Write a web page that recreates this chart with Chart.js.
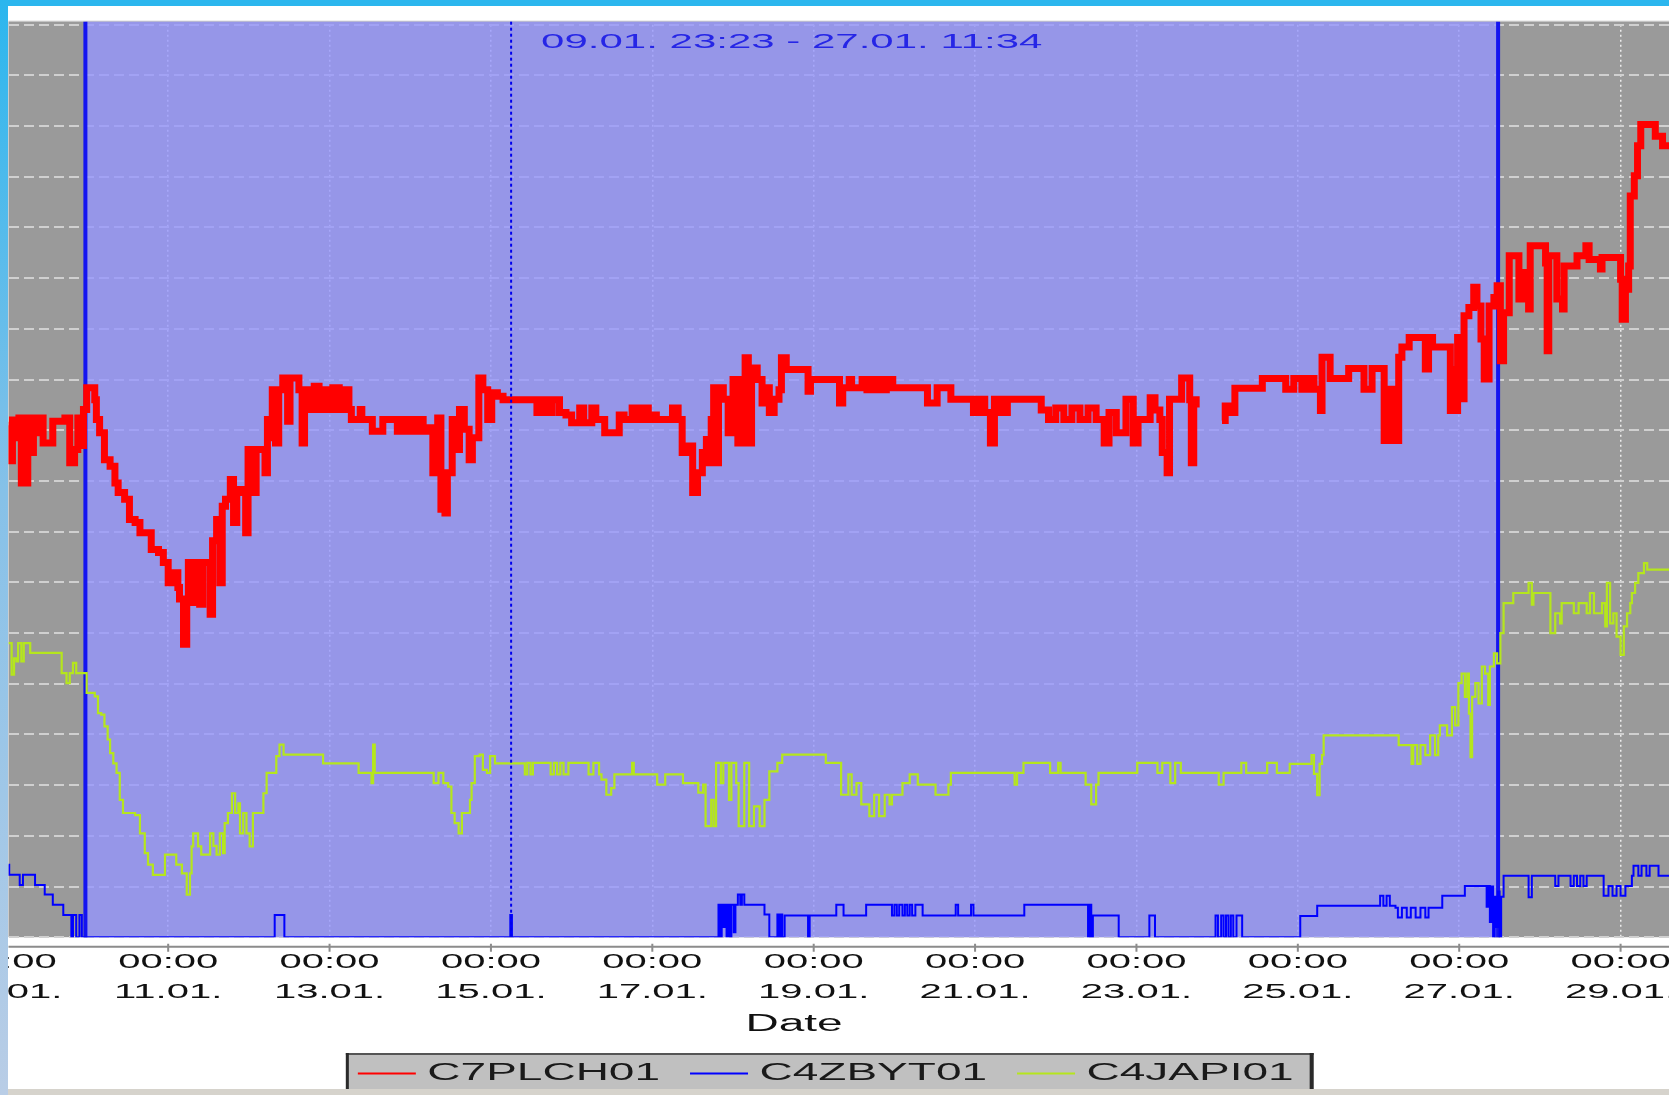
<!DOCTYPE html>
<html>
<head>
<meta charset="utf-8">
<script src="https://cdn.jsdelivr.net/npm/chart.js@4.4.1/dist/chart.umd.min.js"></script>
<style>
  html, body { margin: 0; padding: 0; background: #fff; overflow: hidden; }
  #wrap { position: relative; width: 1669px; height: 1095px; }
  #chart { position: absolute; left: 0; top: 0; }
  .frame { position: absolute; }
  #topbar { left: 0; top: 0; width: 1669px; height: 6px; background: #2bb6ee; }
  #leftbar { left: 0; top: 0; width: 8px; height: 1095px; background: linear-gradient(#2bb6ee, #86c1e8 45%, #b9cde6); }
  #bottombar { left: 8px; top: 1089px; width: 1661px; height: 6px; background: #d6d3cc; }
</style>
</head>
<body>
<div id="wrap">
  <canvas id="chart" width="1669" height="1095"></canvas>
  <div class="frame" id="topbar"></div>
  <div class="frame" id="leftbar"></div>
  <div class="frame" id="bottombar"></div>
</div>
<script>
// x values are days counted from 09.01. 00:00
const tickDays = [0, 2, 4, 6, 8, 10, 12, 14, 16, 18, 20];
const tickDates = ['09.01.', '11.01.', '13.01.', '15.01.', '17.01.', '19.01.', '21.01.', '23.01.', '25.01.', '27.01.', '29.01.'];
const tickTime = '00:00';

const rangeStart = 0.974;   // 09.01. 23:23
const rangeEnd = 18.482;    // 27.01. 11:34
const rangeText = '09.01. 23:23 - 27.01. 11:34';
const cursorDay = 6.25;

const seriesNames = ['C7PLCH01', 'C4ZBYT01', 'C4JAPI01'];

const c7plch01 = [
  [0.02,10.1],[0.05,9.4],[0.07,10.2],[0.12,9.85],[0.15,10.24],[0.18,8.96],[0.26,10.24],[0.31,9.56],[0.33,10.24],[0.35,9.95],
  [0.40,10.24],[0.45,9.75],[0.57,10.18],[0.72,10.24],[0.78,9.36],[0.84,9.62],[0.88,10.24],[0.92,9.7],[0.95,10.41],[0.99,10.84],
  [1.09,10.6],[1.11,10.21],[1.15,9.95],[1.21,9.42],[1.28,9.29],[1.34,8.96],[1.38,8.77],[1.46,8.64],[1.52,8.24],[1.59,8.18],
  [1.65,7.98],[1.79,7.65],[1.88,7.59],[1.94,7.39],[2.00,6.99],[2.06,7.19],[2.12,6.9],[2.14,6.67],[2.19,5.78],[2.23,6.6],
  [2.25,7.39],[2.29,6.6],[2.33,7.39],[2.39,6.57],[2.43,7.39],[2.52,6.37],[2.55,7.82],[2.60,8.24],[2.64,6.99],[2.67,8.5],
  [2.71,8.64],[2.77,9.03],[2.81,8.18],[2.85,8.83],[2.93,8.77],[2.96,7.98],[2.99,9.62],[3.04,8.77],[3.09,9.62],[3.20,9.16],
  [3.23,10.21],[3.27,9.85],[3.29,10.8],[3.33,9.75],[3.37,10.8],[3.42,11.03],[3.48,10.18],[3.51,11.03],[3.62,10.8],[3.66,9.75],
  [3.69,10.8],[3.75,10.41],[3.81,10.87],[3.87,10.41],[3.92,10.8],[3.97,10.41],[4.04,10.84],[4.12,10.41],[4.17,10.8],[4.24,10.41],
  [4.27,10.21],[4.38,10.41],[4.40,10.21],[4.53,9.98],[4.66,10.21],[4.84,9.98],[4.92,10.21],[5.00,9.98],[5.08,10.21],[5.16,9.98],
  [5.22,10.05],[5.28,9.16],[5.34,10.24],[5.38,8.44],[5.43,8.37],[5.46,9.16],[5.52,10.21],[5.56,9.62],[5.61,10.41],[5.67,10.02],
  [5.73,9.42],[5.77,9.85],[5.85,11.03],[5.90,10.8],[5.96,10.21],[6.01,10.74],[6.08,10.67],[6.15,10.6],[6.57,10.35],[6.62,10.6],
  [6.70,10.35],[6.76,10.6],[6.85,10.35],[6.93,10.3],[7.00,10.15],[7.10,10.44],[7.15,10.15],[7.25,10.44],[7.30,10.21],[7.41,9.95],
  [7.59,10.3],[7.65,10.21],[7.75,10.44],[7.80,10.21],[7.88,10.44],[7.95,10.21],[8.01,10.3],[8.05,10.21],[8.25,10.44],[8.32,10.21],
  [8.37,9.56],[8.45,9.69],[8.50,8.77],[8.56,9.16],[8.62,9.56],[8.67,9.82],[8.70,9.36],[8.73,10.21],[8.76,10.84],[8.79,9.36],
  [8.82,10.84],[8.88,10.61],[8.94,9.95],[9.00,11.0],[9.06,9.75],[9.12,11.0],[9.15,11.43],[9.19,9.75],[9.23,11.23],[9.30,11.0],
  [9.36,10.54],[9.39,10.84],[9.45,10.35],[9.51,10.61],[9.57,10.8],[9.60,11.43],[9.66,11.2],[9.93,10.77],[9.96,11.0],[10.32,10.54],
  [10.36,10.84],[10.44,11.0],[10.47,10.84],[10.60,11.0],[10.66,10.8],[10.74,11.0],[10.82,10.8],[10.90,11.0],[10.98,10.84],[11.41,10.54],
  [11.53,10.84],[11.70,10.61],[11.98,10.35],[12.06,10.61],[12.12,10.35],[12.19,9.75],[12.24,10.61],[12.32,10.35],[12.40,10.61],[12.82,10.4],
  [12.91,10.21],[13.00,10.44],[13.10,10.21],[13.20,10.44],[13.30,10.21],[13.40,10.44],[13.50,10.21],[13.60,9.75],[13.66,10.35],[13.75,9.95],
  [13.87,10.61],[13.96,9.75],[14.02,10.21],[14.17,10.64],[14.23,10.4],[14.29,10.21],[14.32,9.56],[14.38,9.16],[14.41,10.61],[14.56,11.03],
  [14.66,10.6],[14.68,9.36],[14.71,10.6],[14.74,10.45],[14.78,null],[15.06,10.19],[15.10,10.48],[15.18,10.35],[15.22,10.83],[15.56,11.02],
  [15.85,10.81],[15.95,11.02],[16.05,10.81],[16.12,11.02],[16.20,10.81],[16.28,10.39],[16.30,11.44],[16.40,11.02],[16.63,11.22],[16.82,10.81],
  [16.92,11.22],[17.07,9.80],[17.15,10.81],[17.20,9.80],[17.25,11.44],[17.29,11.64],[17.38,11.83],[17.58,11.21],[17.62,11.83],[17.67,11.64],
  [17.89,10.39],[17.93,11.2],[17.96,10.39],[17.98,11.83],[18.02,10.62],[18.06,12.26],[18.12,12.42],[18.18,12.82],[18.22,12.45],[18.27,11.8],
  [18.31,11.01],[18.37,12.45],[18.43,12.62],[18.47,12.85],[18.51,11.37],[18.55,12.32],[18.62,13.44],[18.74,12.59],[18.80,13.11],[18.86,12.39],
  [18.88,13.64],[19.07,13.3],[19.09,11.57],[19.11,13.44],[19.21,12.59],[19.28,12.39],[19.30,13.24],[19.46,13.44],[19.57,13.64],[19.61,13.37],
  [19.75,13.18],[19.77,13.41],[20.00,12.98],[20.02,12.19],[20.06,12.78],[20.10,13.24],[20.12,14.62],[20.17,15.02],[20.21,15.61],[20.25,16.03],
  [20.43,15.80],[20.52,15.61],[20.60,15.61]
];

const c4zbyt01 = [
  [0.02,1.43],[0.03,1.23],[0.16,1.03],[0.20,1.23],[0.33,1.23],[0.35,1.03],[0.47,0.84],[0.57,0.64],[0.70,0.44],[0.80,0],
  [0.82,0.44],[0.86,0],[0.90,0.44],[0.93,0],[3.32,0.44],[3.44,0],[6.24,0.44],[6.26,0],[8.82,0.64],[8.84,0],
  [8.86,0.64],[8.88,0.2],[8.90,0.64],[8.92,0],[8.94,0.64],[8.96,0],[8.98,0.64],[9.01,0.1],[9.03,0.64],[9.06,0.84],
  [9.09,0.64],[9.11,0.84],[9.14,0.64],[9.39,0.45],[9.45,0],[9.55,0.45],[9.57,0],[9.59,0.45],[9.61,0],[9.64,0.43],
  [9.93,0],[9.95,0.43],[10.28,0.64],[10.37,0.43],[10.65,0.64],[10.97,0.43],[11.00,0.64],[11.03,0.43],[11.06,0.64],[11.10,0.43],
  [11.13,0.64],[11.16,0.43],[11.19,0.64],[11.22,0.43],[11.26,0.64],[11.35,0.43],[11.76,0.64],[11.79,0.43],[11.95,0.64],[11.98,0.43],
  [12.61,0.64],[13.40,0],[13.42,0.64],[13.44,0],[13.46,0.43],[13.78,0],[14.16,0.43],[14.23,0],[14.98,0.43],[15.01,0],
  [15.05,0.43],[15.08,0],[15.11,0.43],[15.14,0],[15.17,0.43],[15.20,0],[15.24,0.43],[15.31,0],[16.03,0.42],[16.24,0.62],
  [17.02,0.82],[17.06,0.62],[17.10,0.82],[17.14,0.62],[17.21,0.58],[17.24,0.39],[17.29,0.58],[17.35,0.39],[17.40,0.58],[17.46,0.39],
  [17.52,0.58],[17.58,0.39],[17.62,0.58],[17.79,0.82],[18.07,1.01],[18.34,0.6],[18.36,1.01],[18.38,0.3],[18.40,1.0],[18.42,0],
  [18.44,0.8],[18.46,0.2],[18.48,0.9],[18.50,0],[18.52,0.8],[18.55,1.21],[18.86,0.79],[18.90,1.21],[19.19,1.01],[19.23,1.21],
  [19.38,1.01],[19.42,1.21],[19.46,1.01],[19.50,1.21],[19.54,1.01],[19.58,1.21],[19.79,0.82],[19.85,1.01],[19.90,0.82],[19.95,1.01],
  [20.00,0.82],[20.06,1.01],[20.14,1.21],[20.16,1.41],[20.22,1.21],[20.26,1.41],[20.32,1.21],[20.36,1.41],[20.47,1.21],[20.60,1.21]
];

const c4japi01 = [
  [0.02,5.8],[0.06,5.18],[0.09,5.5],[0.12,5.44],[0.14,5.8],[0.18,5.44],[0.21,5.8],[0.29,5.61],[0.68,5.21],[0.74,5.01],
  [0.78,5.21],[0.82,5.41],[0.86,5.21],[0.99,4.82],[1.09,4.75],[1.13,4.42],[1.17,4.39],[1.21,4.16],[1.25,3.9],[1.28,3.63],
  [1.32,3.43],[1.36,3.24],[1.40,2.71],[1.44,2.45],[1.59,2.41],[1.65,2.05],[1.71,1.66],[1.75,1.43],[1.81,1.23],[1.96,1.63],
  [2.08,1.63],[2.10,1.43],[2.17,1.26],[2.23,0.84],[2.27,1.26],[2.29,1.79],[2.31,2.05],[2.37,1.79],[2.41,1.63],[2.52,2.05],
  [2.56,1.8],[2.60,1.63],[2.64,2.05],[2.68,1.66],[2.70,2.25],[2.74,2.45],[2.79,2.84],[2.83,2.45],[2.87,2.64],[2.89,2.05],
  [2.93,2.45],[2.97,2.05],[3.01,1.79],[3.05,2.45],[3.18,2.84],[3.22,3.24],[3.34,3.57],[3.38,3.80],[3.43,3.60],[3.92,3.43],
  [4.36,3.24],[4.52,3.04],[4.54,3.80],[4.56,3.24],[5.29,3.04],[5.35,3.24],[5.41,3.04],[5.47,2.97],[5.51,2.45],[5.55,2.25],
  [5.60,2.05],[5.64,2.45],[5.74,2.71],[5.76,3.04],[5.80,3.57],[5.86,3.60],[5.90,3.3],[5.95,3.24],[5.99,3.57],[6.05,3.43],
  [6.42,3.21],[6.45,3.44],[6.49,3.21],[6.52,3.44],[6.74,3.21],[6.78,3.44],[6.82,3.21],[6.86,3.44],[6.90,3.21],[6.96,3.44],
  [7.21,3.21],[7.27,3.44],[7.34,3.21],[7.37,3.11],[7.43,2.81],[7.49,2.94],[7.53,3.21],[7.75,3.44],[7.77,3.21],[8.06,3.01],
  [8.16,3.21],[8.38,3.04],[8.57,2.85],[8.63,3.01],[8.66,2.19],[8.73,2.71],[8.76,2.19],[8.79,3.44],[8.85,3.04],[8.88,3.44],
  [8.95,2.71],[8.98,3.44],[9.04,3.04],[9.07,2.19],[9.14,3.44],[9.20,2.19],[9.26,2.58],[9.33,2.19],[9.39,2.71],[9.45,3.27],
  [9.55,3.44],[9.61,3.60],[10.15,3.44],[10.34,2.81],[10.43,3.21],[10.47,2.81],[10.53,3.04],[10.59,2.62],[10.69,2.39],[10.75,2.81],
  [10.81,2.39],[10.88,2.81],[10.94,2.62],[10.97,2.81],[11.10,3.04],[11.19,3.21],[11.29,3.01],[11.51,2.81],[11.67,3.01],[11.70,3.24],
  [12.49,3.01],[12.52,3.24],[12.60,3.44],[12.93,3.24],[13.03,3.44],[13.06,3.24],[13.37,3.01],[13.44,2.62],[13.50,3.01],[13.53,3.24],
  [14.01,3.44],[14.26,3.24],[14.32,3.44],[14.42,3.04],[14.48,3.44],[14.55,3.24],[15.02,3.01],[15.08,3.24],[15.30,3.44],[15.36,3.24],
  [15.62,3.44],[15.74,3.24],[15.90,3.42],[16.17,3.59],[16.20,3.22],[16.24,2.80],[16.27,3.42],[16.30,3.59],[16.32,3.98],[17.25,3.79],
  [17.41,3.42],[17.43,3.79],[17.48,3.42],[17.52,3.79],[17.58,3.59],[17.64,3.98],[17.70,3.59],[17.74,3.98],[17.76,4.18],[17.85,3.98],
  [17.91,4.54],[17.95,4.18],[17.99,5.01],[18.03,5.20],[18.07,4.74],[18.10,5.20],[18.12,4.41],[18.14,3.55],[18.16,4.74],[18.20,5.01],
  [18.24,4.61],[18.28,5.34],[18.32,5.20],[18.36,4.58],[18.38,5.34],[18.43,5.60],[18.47,5.40],[18.51,6.00],[18.55,6.59],[18.67,6.79],
  [18.86,6.99],[18.90,6.56],[18.92,6.79],[19.13,6.00],[19.19,6.39],[19.25,6.19],[19.27,6.59],[19.42,6.39],[19.48,6.59],[19.58,6.39],
  [19.62,6.79],[19.67,6.39],[19.77,6.59],[19.81,6.13],[19.83,6.99],[19.87,6.19],[19.91,6.39],[19.95,5.93],[20.00,5.57],[20.04,6.13],
  [20.08,6.39],[20.12,6.59],[20.14,6.79],[20.18,6.99],[20.22,7.18],[20.29,7.38],[20.33,7.25],[20.60,7.25]
];

const toPoints = rows => rows.map(([x, y]) => ({ x, y }));

// the original program paints its text twice as wide as normal
const STRETCH = 2;
const canvas = document.getElementById('chart');
const g = canvas.getContext('2d');
const plainFill = g.fillText.bind(g);
const plainMeasure = g.measureText.bind(g);
g.fillText = function (text, x, y, maxWidth) {
  g.save();
  g.translate(x, y);
  g.scale(STRETCH, 1);
  if (maxWidth == null) plainFill(text, 0, 0);
  else plainFill(text, 0, 0, maxWidth / STRETCH);
  g.restore();
};
g.measureText = function (text) {
  const m = plainMeasure(text);
  return {
    width: m.width * STRETCH,
    actualBoundingBoxAscent: m.actualBoundingBoxAscent,
    actualBoundingBoxDescent: m.actualBoundingBoxDescent
  };
};

Chart.defaults.font.family = "'Liberation Sans', Arial, Helvetica, sans-serif";

const legendShift = 13;

const plotDecor = {
  id: 'plotDecor',
  afterLayout(chart) {
    // the legend row sits a bit left of the canvas centre
    chart.legend.left -= legendShift;
    chart.legend.right -= legendShift;
  },
  beforeDraw(chart) {
    const { ctx, chartArea: a, legend } = chart;
    ctx.save();
    ctx.fillStyle = '#c6c6c6';
    ctx.fillRect(a.left, a.top - 4, a.right - a.left, 1);
    ctx.fillStyle = '#9a9a9a';
    ctx.fillRect(a.left, a.top - 3, a.right - a.left, a.bottom - a.top + 3);

    // framed legend box
    const boxes = legend.legendHitBoxes;
    const first = boxes[0], last = boxes[boxes.length - 1];
    const lx = first.left - 12, rx = last.left + last.width + 20, ty = first.top - 9;
    const h = chart.height - ty;
    ctx.fillStyle = '#c0c0c0';
    ctx.fillRect(lx, ty, rx - lx, h);
    ctx.fillStyle = '#555';
    ctx.fillRect(lx, ty, rx - lx, 2);
    ctx.fillStyle = '#2a2a2a';
    ctx.fillRect(lx, ty, 3, h);
    ctx.fillRect(rx - 4, ty, 4, h);
    ctx.restore();
  },
  beforeDatasetsDraw(chart) {
    const { ctx, chartArea: a, scales: { x } } = chart;
    const x0 = x.getPixelForValue(rangeStart);
    const x1 = x.getPixelForValue(rangeEnd);
    ctx.save();
    ctx.fillStyle = 'rgba(149, 149, 254, 0.78)';
    ctx.fillRect(x0, a.top - 3, x1 - x0, a.bottom - a.top + 3);
    ctx.strokeStyle = '#1414f0';
    ctx.lineWidth = 4;
    ctx.beginPath();
    [x0, x1].forEach(px => { ctx.moveTo(px, a.top - 3); ctx.lineTo(px, a.bottom); });
    ctx.stroke();
    ctx.restore();
  },
  afterDatasetsDraw(chart) {
    const { ctx, chartArea: a, scales: { x } } = chart;
    ctx.save();
    const cx = x.getPixelForValue(cursorDay);
    ctx.strokeStyle = '#0000ee';
    ctx.lineWidth = 2;
    ctx.setLineDash([3, 3]);
    ctx.beginPath();
    ctx.moveTo(cx, a.top - 3);
    ctx.lineTo(cx, a.bottom);
    ctx.stroke();

    ctx.font = "21px 'Liberation Sans', Arial, sans-serif";
    ctx.fillStyle = '#2626e6';
    ctx.textAlign = 'center';
    ctx.textBaseline = 'alphabetic';
    ctx.fillText(rangeText, x.getPixelForValue((rangeStart + rangeEnd) / 2), a.top + 23.5);
    ctx.restore();
  },
  afterDraw(chart) {
    // axis line sits a little below the plot, with short tick marks
    const { ctx, chartArea: a, scales: { x } } = chart;
    const y = a.bottom + 9.5;
    ctx.save();
    ctx.strokeStyle = '#8c8c8c';
    ctx.lineWidth = 2;
    ctx.beginPath();
    ctx.moveTo(a.left, y);
    ctx.lineTo(a.right, y);
    x.ticks.forEach(t => {
      const px = x.getPixelForValue(t.value);
      if (px < a.left || px > a.right) return;
      ctx.moveTo(px, y - 3);
      ctx.lineTo(px, y + 5);
    });
    ctx.stroke();
    ctx.restore();
  }
};

new Chart(g, {
  type: 'line',
  data: {
    datasets: [
      { label: seriesNames[0], data: toPoints(c7plch01), borderColor: '#ff0000', backgroundColor: '#ff0000', borderWidth: 7 },
      { label: seriesNames[1], data: toPoints(c4zbyt01), borderColor: '#0000ff', backgroundColor: '#0000ff', borderWidth: 2 },
      { label: seriesNames[2], data: toPoints(c4japi01), borderColor: '#b5e61d', backgroundColor: '#b5e61d', borderWidth: 2.2 }
    ]
  },
  options: {
    responsive: false,
    animation: false,
    devicePixelRatio: 1,
    events: [],
    datasets: {
      line: { stepped: true, pointRadius: 0, fill: false, spanGaps: false }
    },
    layout: { autoPadding: false, padding: { left: 8.5, top: 24.7, right: 0, bottom: 0 } },
    scales: {
      x: {
        type: 'linear',
        min: 0.021,
        max: 20.6,
        afterBuildTicks: scale => { scale.ticks = tickDays.map(v => ({ value: v })); },
        // edge labels are allowed to run off the plot, like in the original
        afterFit: scale => { scale.paddingLeft = 0; scale.paddingRight = 0; },
        ticks: {
          autoSkip: false,
          maxRotation: 0,
          padding: 10.5,
          color: '#111',
          font: { size: 20, lineHeight: 1.5 },
          callback: (v, i) => [tickTime, tickDates[i]]
        },
        grid: { color: '#ececec', lineWidth: 1.5, drawTicks: false },
        border: { display: false, dash: [2, 3] },
        title: {
          display: true,
          // nbsp padding nudges the centred title left, as in the original
          text: 'Date' + '\u00a0'.repeat(7),
          color: '#111',
          font: { size: 23, lineHeight: 0.6 },
          padding: 0
        }
      },
      y: {
        min: 0,
        max: 18,
        ticks: { stepSize: 1, display: false },
        grid: { color: '#d0d0d0', lineWidth: 2, drawTicks: false },
        border: { display: false, dash: [10, 5] }
      }
    },
    plugins: {
      tooltip: { enabled: false },
      legend: {
        position: 'bottom',
        labels: {
          usePointStyle: true,
          pointStyle: 'line',
          pointStyleWidth: 58,
          padding: 30,
          color: '#1a1a1a',
          font: { size: 23 },
          generateLabels: chart =>
            Chart.defaults.plugins.legend.labels.generateLabels(chart).map(l => ({ ...l, lineWidth: 2 }))
        }
      }
    }
  },
  plugins: [plotDecor]
});
</script>
</body>
</html>
